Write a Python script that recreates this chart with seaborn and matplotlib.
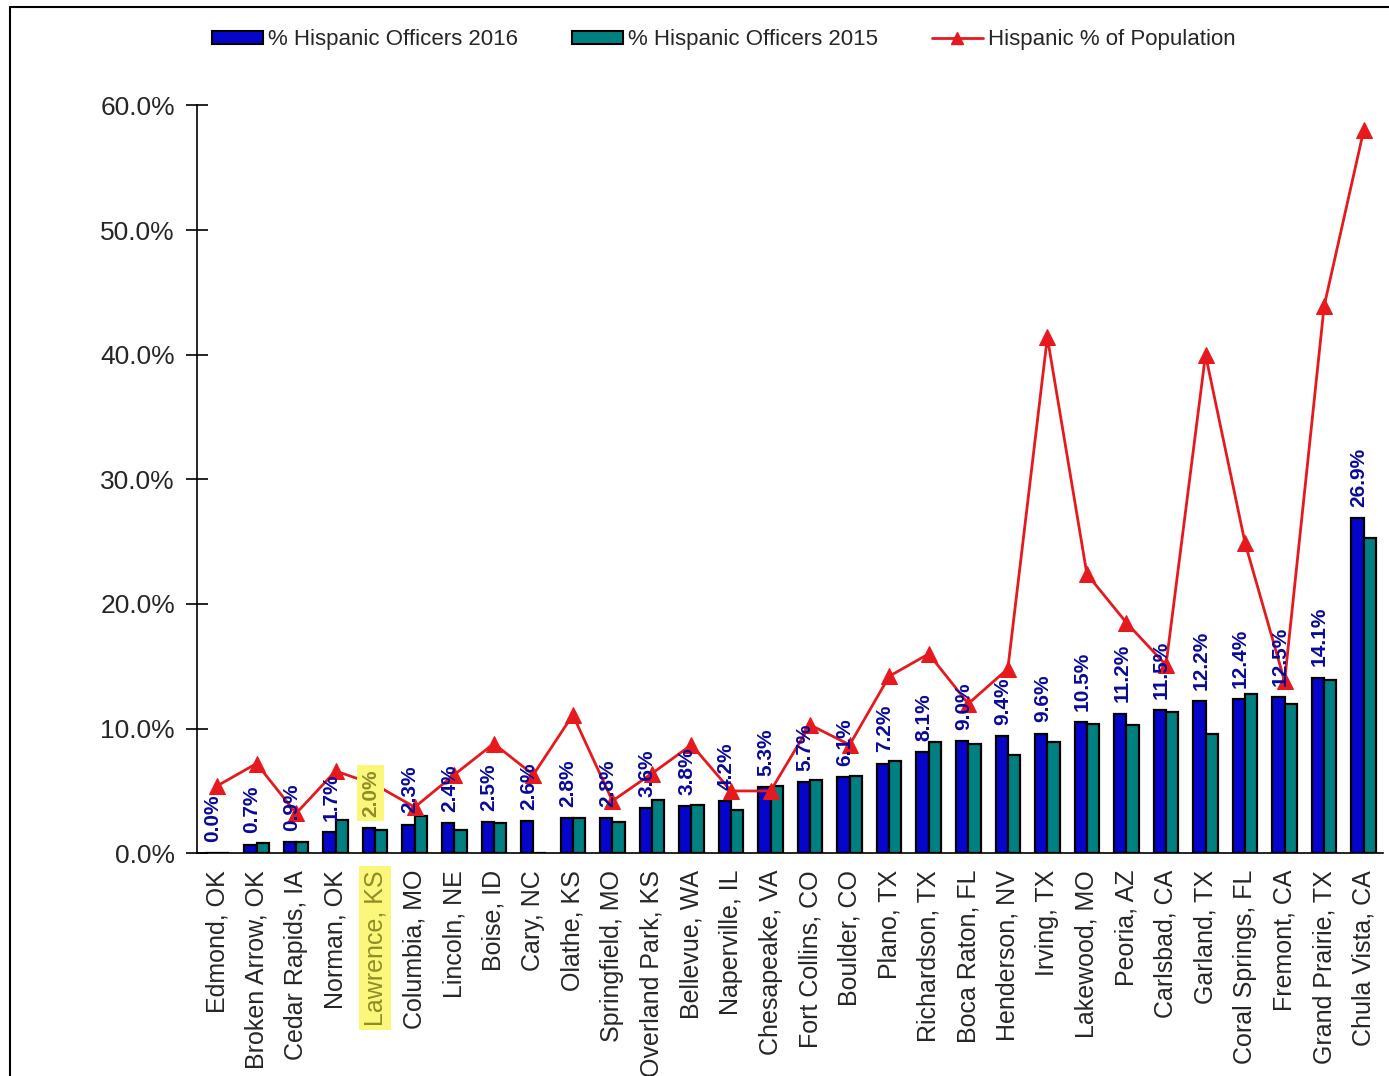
import numpy as np
import pandas as pd
import seaborn as sns
import matplotlib.pyplot as plt
from matplotlib.patches import Rectangle
from matplotlib.lines import Line2D
from matplotlib.ticker import PercentFormatter, FixedLocator

cities = ["Edmond, OK", "Broken Arrow, OK", "Cedar Rapids, IA", "Norman, OK", "Lawrence, KS",
          "Columbia, MO", "Lincoln, NE", "Boise, ID", "Cary, NC", "Olathe, KS",
          "Springfield, MO", "Overland Park, KS", "Bellevue, WA", "Naperville, IL", "Chesapeake, VA",
          "Fort Collins, CO", "Boulder, CO", "Plano, TX", "Richardson, TX", "Boca Raton, FL",
          "Henderson, NV", "Irving, TX", "Lakewood, MO", "Peoria, AZ", "Carlsbad, CA",
          "Garland, TX", "Coral Springs, FL", "Fremont, CA", "Grand Prairie, TX", "Chula Vista, CA"]
officers_2016 = [0.0, 0.7, 0.9, 1.7, 2.0, 2.3, 2.4, 2.5, 2.6, 2.8,
                 2.8, 3.6, 3.8, 4.2, 5.3, 5.7, 6.1, 7.2, 8.1, 9.0,
                 9.4, 9.6, 10.5, 11.2, 11.5, 12.2, 12.4, 12.5, 14.1, 26.9]
officers_2015 = [0.0, 0.8, 0.9, 2.7, 1.9, 3.0, 1.9, 2.4, 0.0, 2.8,
                 2.5, 4.3, 3.9, 3.5, 5.4, 5.9, 6.2, 7.4, 8.9, 8.8,
                 7.9, 8.9, 10.4, 10.3, 11.3, 9.6, 12.8, 12.0, 13.9, 25.3]
hispanic_pop = [5.4, 7.2, 3.2, 6.6, 5.5, 3.7, 6.3, 8.8, 6.3, 11.1,
                4.2, 6.4, 8.7, 5.0, 5.0, 10.3, 8.7, 14.2, 16.0, 12.0,
                14.8, 41.4, 22.4, 18.5, 15.1, 40.0, 24.9, 13.8, 43.9, 58.0]
series_names = ["% Hispanic Officers 2016", "% Hispanic Officers 2015", "Hispanic % of Population"]
highlight = "Lawrence, KS"

blue = "#0505CC"
teal = "#008080"
red = "#E6191E"
navy = "#0A0A99"
olive = "#8F8C2A"
yellow = "#FAF77A"

df = pd.DataFrame({
    "city": cities * 2,
    "value": officers_2016 + officers_2015,
    "series": [series_names[0]] * len(cities) + [series_names[1]] * len(cities),
})

sns.set_style("white")
plt.rcParams["font.family"] = ["Liberation Sans", "DejaVu Sans"]

fig = plt.figure(figsize=(13.89, 10.76), dpi=100)
ax = fig.add_axes([0.142, 0.207, 0.854, 0.695])

sns.barplot(data=df, x="city", y="value", hue="series", palette=[blue, teal], saturation=1,
            width=0.62, edgecolor="black", linewidth=1.6, ax=ax, legend=False)
sns.lineplot(x=np.arange(len(cities)), y=hispanic_pop, color=red, linewidth=2,
             marker="^", markersize=12, markeredgecolor=red, ax=ax)

# value labels for 2016
for i, (c, v) in enumerate(zip(cities, officers_2016)):
    t = ax.text(i - 0.12, v + 0.9, f"{v:.1f}%", rotation=90, ha="center", va="bottom",
                fontsize=15, fontweight="bold", color=navy)
    if c == highlight:
        t.set_color(olive)
        t.set_bbox(dict(facecolor=yellow, edgecolor="none", pad=3))

ax.set_xlim(-0.5, len(cities) - 0.5)
ax.set_ylim(0, 60)
ax.yaxis.set_major_locator(FixedLocator(np.arange(0, 61, 10)))
ax.yaxis.set_major_formatter(PercentFormatter(decimals=1))
ax.set_xticks(np.arange(len(cities)))
ax.set_xticklabels(cities, rotation=90, fontsize=18)
ax.set_xticks(np.arange(len(cities)) + 0.5, minor=True)
ax.tick_params(axis="x", which="major", length=0, pad=12)
ax.tick_params(axis="x", which="minor", length=14, width=1.2, direction="inout", color="black")
ax.tick_params(axis="y", which="major", length=16, width=1.2, direction="inout", labelsize=19,
               pad=8, color="black", left=True)
for lab in ax.get_xticklabels():
    if lab.get_text() == highlight:
        lab.set_color(olive)
        lab.set_bbox(dict(facecolor=yellow, edgecolor="none", pad=3))

ax.set_xlabel("")
ax.set_ylabel("")
sns.despine(ax=ax)
ax.spines["left"].set_color("black")
ax.spines["bottom"].set_color("black")
ax.spines["left"].set_linewidth(1.2)
ax.spines["bottom"].set_linewidth(1.2)

handles = [Rectangle((0, 0), 1, 1, facecolor=blue, edgecolor="black", linewidth=1.5),
           Rectangle((0, 0), 1, 1, facecolor=teal, edgecolor="black", linewidth=1.5),
           Line2D([], [], color=red, linewidth=2, marker="^", markersize=8)]
fig.legend(handles, series_names, ncol=3, loc="center left", bbox_to_anchor=(0.138, 0.963),
           frameon=False, fontsize=16, handlelength=2.3, handleheight=0.5, handletextpad=0.25,
           columnspacing=2.4)

# outer frame (top and left edges only)
top_y = 1 - 7 / 1076
left_x = 10 / 1389
fig.add_artist(Line2D([left_x, 1.0], [top_y, top_y], transform=fig.transFigure,
                      color="black", linewidth=1.5))
fig.add_artist(Line2D([left_x, left_x], [0.0, top_y], transform=fig.transFigure,
                      color="black", linewidth=1.5))

fig.savefig("out.png", dpi=100)
